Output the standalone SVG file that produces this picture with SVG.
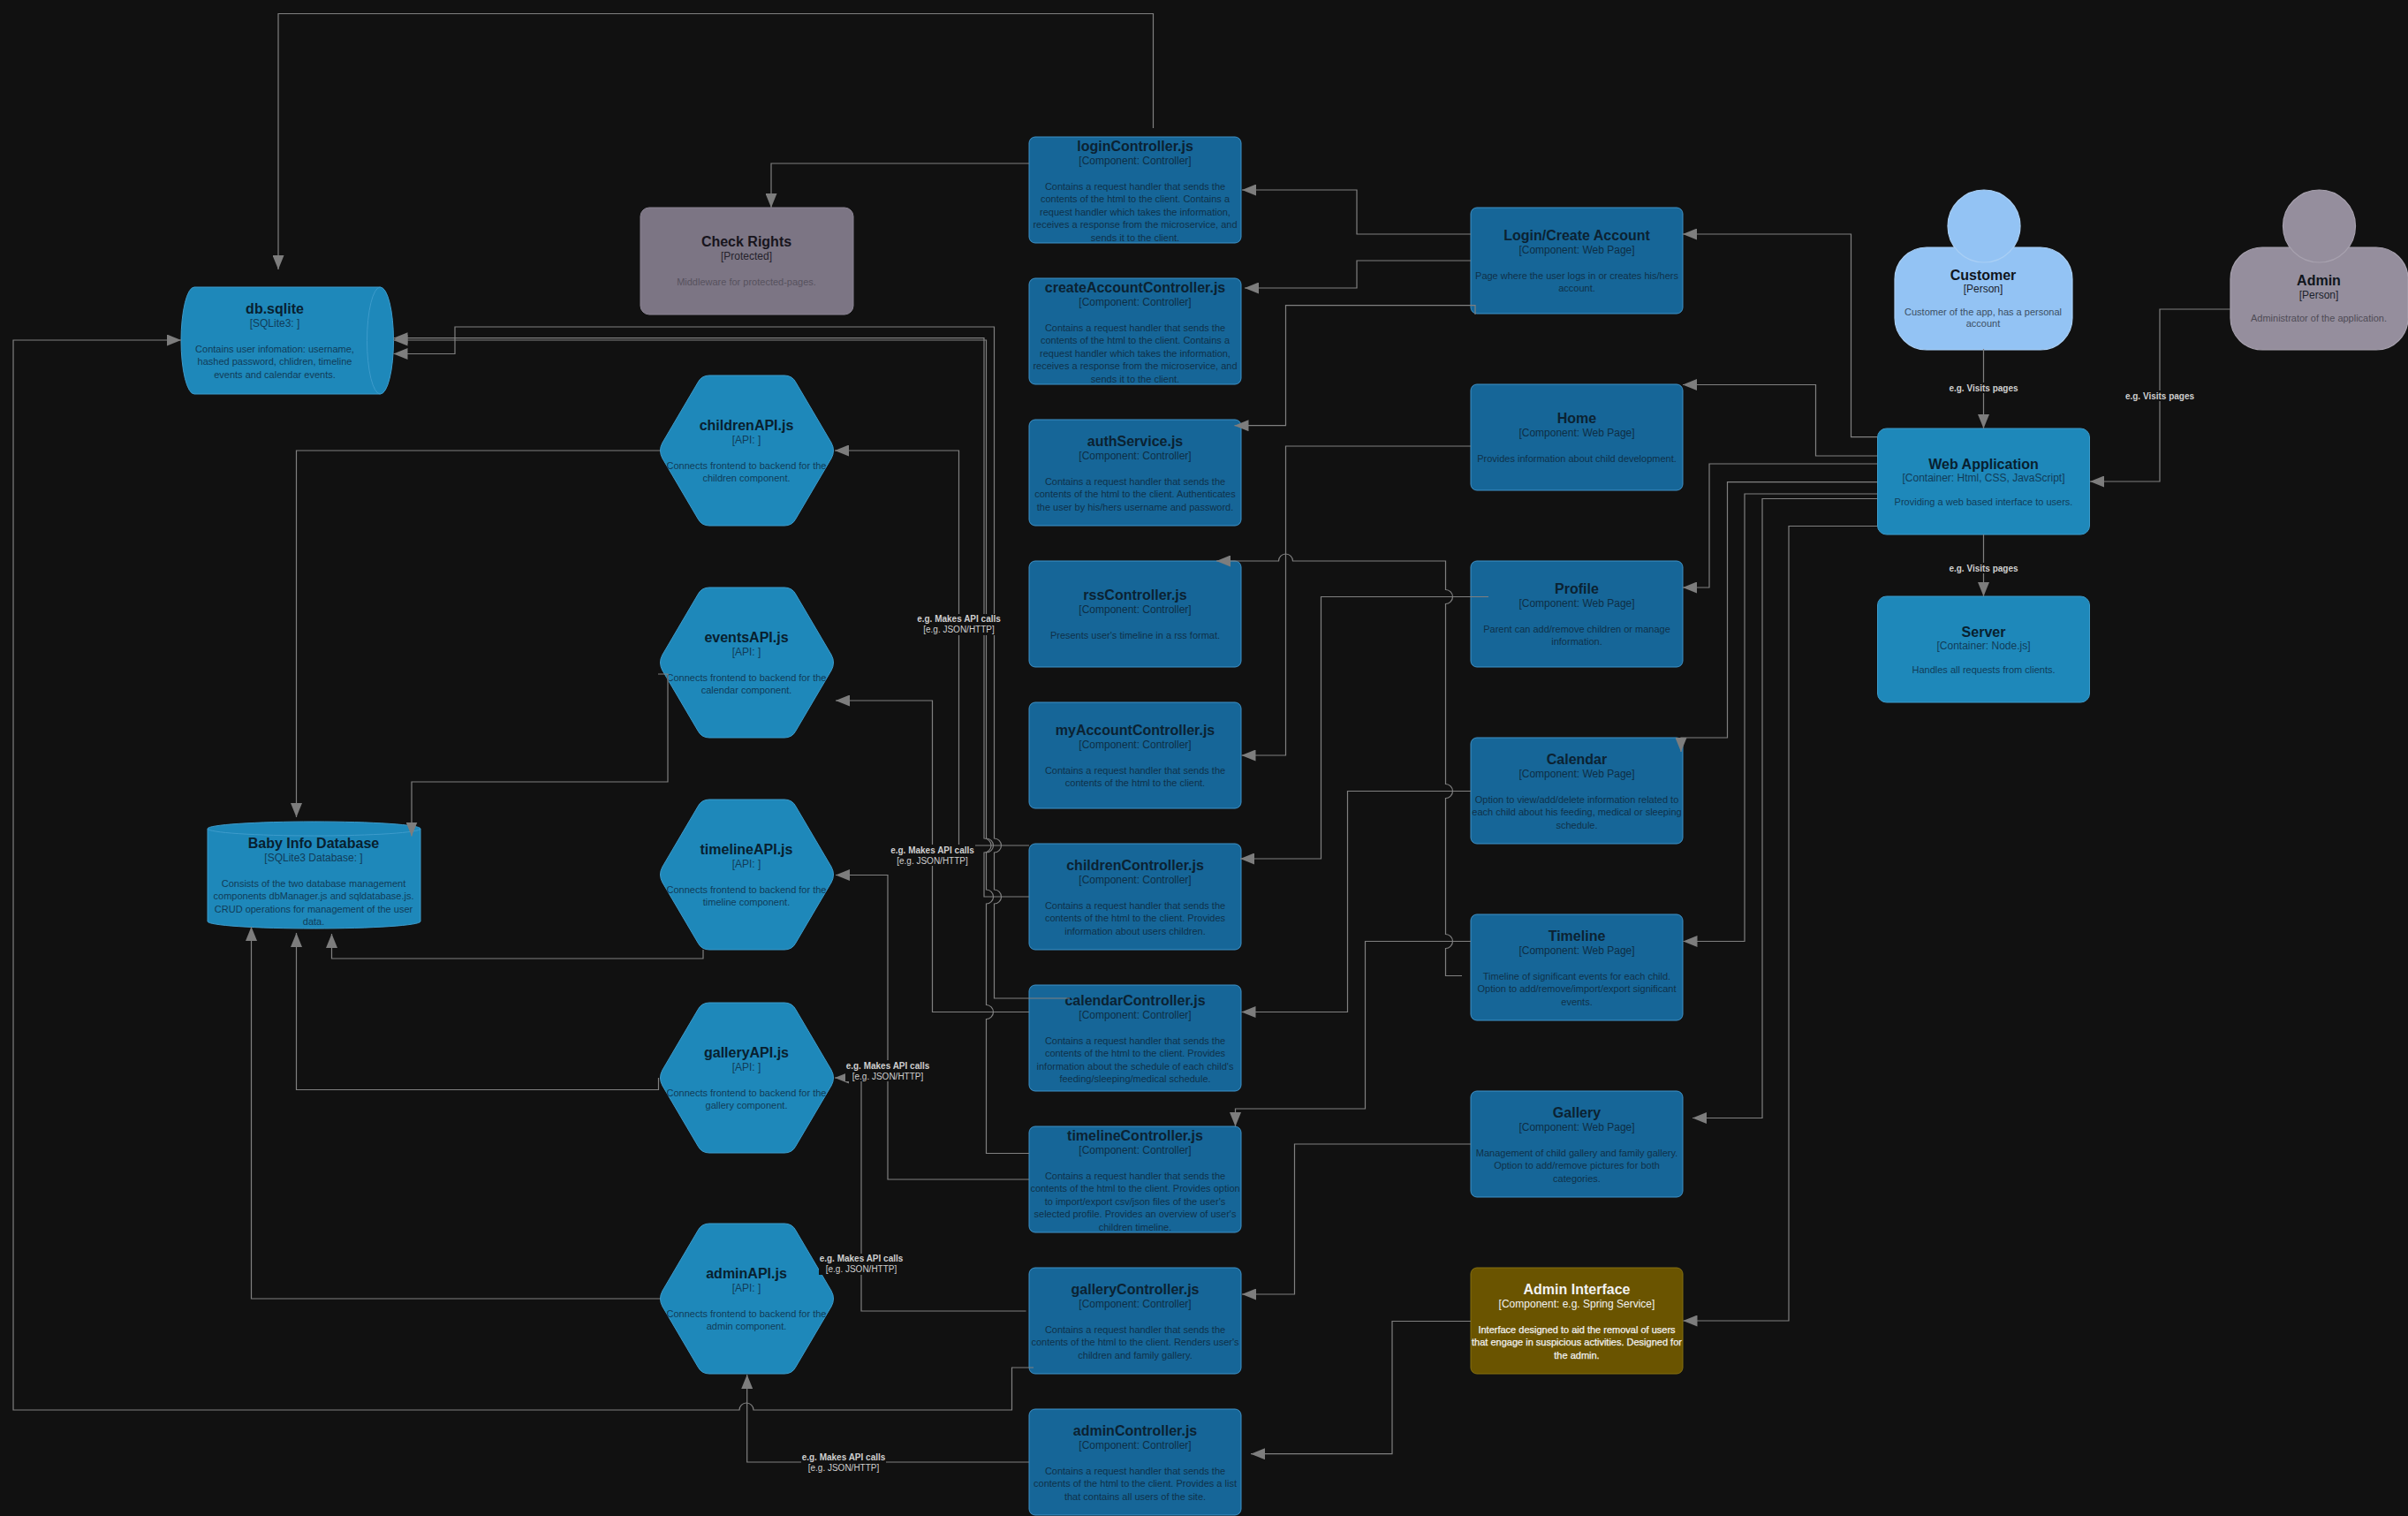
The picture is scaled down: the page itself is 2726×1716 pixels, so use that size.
<svg xmlns="http://www.w3.org/2000/svg" width="2726" height="1716" viewBox="0 0 2726 1716">
<style>
text{font-family:"Liberation Sans",Arial,sans-serif;text-anchor:middle}
.t{font-size:16px;font-weight:bold;fill:#0b2232}
.s{font-size:12px;fill:#0e2e45}
.d{font-size:11px;fill:#0f3149}
.c rect{fill:#166698;stroke:#3f92c8;stroke-width:1}
.k rect,.k path{fill:#1e88ba;stroke:#3d9bcb;stroke-width:1}
.k .t{fill:#08202f}
.k .s,.k .d{fill:#113c58}
.g rect{fill:#7c7584;stroke:#8b8493}
.g .t{fill:#17141c}
.g .s{fill:#25222b}
.g .d{fill:#57525e}
.y rect{fill:#6a5400;stroke:#85700f}
.y .t,.y .s,.y .d{fill:#f2f2f2}
.y .d{stroke:#f2f2f2;stroke-width:.25}
.p rect,.p ellipse{stroke-width:1.2}
.p .t{fill:#10151c}
.p .s{fill:#1b222c}
.cu rect,.cu ellipse{fill:#93c3f4;stroke:#a9cff5}
.cu .d{fill:#3c4f63}
.ad rect,.ad ellipse{fill:#958e9d;stroke:#a7a1ae}
.ad .d{fill:#4f4c56}
#connectors path{fill:none;stroke:#808080;stroke-width:1.2}
#connectors path.a{marker-end:url(#ah)}
.lb rect{fill:#111111}
.lb text{font-size:10px;fill:#cfcfcf}
.lb .b{font-weight:bold}
</style>
<defs>
<marker id="ah" markerUnits="userSpaceOnUse" markerWidth="16" markerHeight="13" refX="16" refY="6.500" orient="auto"><path d="M0,0 L16,6.500 L0,13 Z" fill="#7d7d7d"/></marker>
<path id="hexshape" d="M3,76 L43,8 Q47,0 56,0 L141,0 Q150,0 154,8 L194,76 Q199,85 194,94 L154,162 Q150,170 141,170 L56,170 Q47,170 43,162 L3,94 Q-2,85 3,76Z"/>
</defs>
<rect width="2726" height="1716" fill="#111111"/>

<g id="person-customer" class="p cu" transform="translate(2145,215)">
<rect x="0" y="65" width="201" height="116" rx="36" ry="36"/><ellipse cx="101" cy="41" rx="41" ry="41"/>
<text class="t" x="100" y="101.500">Customer</text><text class="s" x="100" y="116">[Person]</text>
<text class="d" x="100" y="142">Customer of the app, has a personal<tspan x="100" dy="13">account</tspan></text></g>
<g id="person-admin" class="p ad" transform="translate(2525,215)">
<rect x="0" y="65" width="201" height="116" rx="36" ry="36"/><ellipse cx="100.500" cy="41" rx="41" ry="41"/>
<text class="t" x="100" y="107.500">Admin</text><text class="s" x="100" y="123">[Person]</text>
<text class="d" x="100" y="149">Administrator of the application.</text></g>
<g id="web-application" class="k" transform="translate(2125.500,485)"><rect width="240" height="120" rx="10"/>
<text class="t" x="120" y="45.500">Web Application</text><text class="s" x="120" y="60">[Container: Html, CSS, JavaScript]</text>
<text class="d" x="120" y="87">Providing a web based interface to users.</text></g>
<g id="server" class="k" transform="translate(2125.500,675)"><rect width="240" height="120" rx="10"/>
<text class="t" x="120" y="45.500">Server</text><text class="s" x="120" y="60">[Container: Node.js]</text>
<text class="d" x="120" y="87">Handles all requests from clients.</text></g>

<g id="page-login" class="c" transform="translate(1665,235)"><rect width="240" height="120" rx="7"/>
<text class="t" x="120" y="36.500">Login/Create Account</text><text class="s" x="120" y="52">[Component: Web Page]</text>
<text class="d" x="120" y="81">Page where the user logs in or creates his/hers<tspan x="120" dy="14.400">account.</tspan></text></g>
<g id="page-home" class="c" transform="translate(1665,435)"><rect width="240" height="120" rx="7"/>
<text class="t" x="120" y="43.500">Home</text><text class="s" x="120" y="59">[Component: Web Page]</text>
<text class="d" x="120" y="88">Provides information about child development.</text></g>
<g id="page-profile" class="c" transform="translate(1665,635)"><rect width="240" height="120" rx="7"/>
<text class="t" x="120" y="36.500">Profile</text><text class="s" x="120" y="52">[Component: Web Page]</text>
<text class="d" x="120" y="81">Parent can add/remove children or manage<tspan x="120" dy="14.400">information.</tspan></text></g>
<g id="page-calendar" class="c" transform="translate(1665,835)"><rect width="240" height="120" rx="7"/>
<text class="t" x="120" y="29.500">Calendar</text><text class="s" x="120" y="45">[Component: Web Page]</text>
<text class="d" x="120" y="74">Option to view/add/delete information related to<tspan x="120" dy="14.400">each child about his feeding, medical or sleeping</tspan><tspan x="120" dy="14.400">schedule.</tspan></text></g>
<g id="page-timeline" class="c" transform="translate(1665,1035)"><rect width="240" height="120" rx="7"/>
<text class="t" x="120" y="29.500">Timeline</text><text class="s" x="120" y="45">[Component: Web Page]</text>
<text class="d" x="120" y="74">Timeline of significant events for each child.<tspan x="120" dy="14.400">Option to add/remove/import/export significant</tspan><tspan x="120" dy="14.400">events.</tspan></text></g>
<g id="page-gallery" class="c" transform="translate(1665,1235)"><rect width="240" height="120" rx="7"/>
<text class="t" x="120" y="29.500">Gallery</text><text class="s" x="120" y="45">[Component: Web Page]</text>
<text class="d" x="120" y="74">Management of child gallery and family gallery.<tspan x="120" dy="14.400">Option to add/remove pictures for both</tspan><tspan x="120" dy="14.400">categories.</tspan></text></g>
<g id="admin-interface" class="y" transform="translate(1665,1435)"><rect width="240" height="120" rx="7"/>
<text class="t" x="120" y="29.500">Admin Interface</text><text class="s" x="120" y="45">[Component: e.g. Spring Service]</text>
<text class="d" x="120" y="74">Interface designed to aid the removal of users<tspan x="120" dy="14.400">that engage in suspicious activities. Designed for</tspan><tspan x="120" dy="14.400">the admin.</tspan></text></g>

<g id="ctrl-login" class="c" transform="translate(1165,155)"><rect width="240" height="120" rx="7"/>
<text class="t" x="120" y="15.500">loginController.js</text><text class="s" x="120" y="31">[Component: Controller]</text>
<text class="d" x="120" y="60">Contains a request handler that sends the<tspan x="120" dy="14.400">contents of the html to the client. Contains a</tspan><tspan x="120" dy="14.400">request handler which takes the information,</tspan><tspan x="120" dy="14.400">receives a response from the microservice, and</tspan><tspan x="120" dy="14.400">sends it to the client.</tspan></text></g>
<g id="ctrl-create" class="c" transform="translate(1165,315)"><rect width="240" height="120" rx="7"/>
<text class="t" x="120" y="15.500">createAccountController.js</text><text class="s" x="120" y="31">[Component: Controller]</text>
<text class="d" x="120" y="60">Contains a request handler that sends the<tspan x="120" dy="14.400">contents of the html to the client. Contains a</tspan><tspan x="120" dy="14.400">request handler which takes the information,</tspan><tspan x="120" dy="14.400">receives a response from the microservice, and</tspan><tspan x="120" dy="14.400">sends it to the client.</tspan></text></g>
<g id="ctrl-auth" class="c" transform="translate(1165,475)"><rect width="240" height="120" rx="7"/>
<text class="t" x="120" y="29.500">authService.js</text><text class="s" x="120" y="45">[Component: Controller]</text>
<text class="d" x="120" y="74">Contains a request handler that sends the<tspan x="120" dy="14.400">contents of the html to the client. Authenticates</tspan><tspan x="120" dy="14.400">the user by his/hers username and password.</tspan></text></g>
<g id="ctrl-rss" class="c" transform="translate(1165,635)"><rect width="240" height="120" rx="7"/>
<text class="t" x="120" y="43.500">rssController.js</text><text class="s" x="120" y="59">[Component: Controller]</text>
<text class="d" x="120" y="88">Presents user's timeline in a rss format.</text></g>
<g id="ctrl-account" class="c" transform="translate(1165,795)"><rect width="240" height="120" rx="7"/>
<text class="t" x="120" y="36.500">myAccountController.js</text><text class="s" x="120" y="52">[Component: Controller]</text>
<text class="d" x="120" y="81">Contains a request handler that sends the<tspan x="120" dy="14.400">contents of the html to the client.</tspan></text></g>
<g id="ctrl-children" class="c" transform="translate(1165,955)"><rect width="240" height="120" rx="7"/>
<text class="t" x="120" y="29.500">childrenController.js</text><text class="s" x="120" y="45">[Component: Controller]</text>
<text class="d" x="120" y="74">Contains a request handler that sends the<tspan x="120" dy="14.400">contents of the html to the client. Provides</tspan><tspan x="120" dy="14.400">information about users children.</tspan></text></g>
<g id="ctrl-calendar" class="c" transform="translate(1165,1115)"><rect width="240" height="120" rx="7"/>
<text class="t" x="120" y="22.500">calendarController.js</text><text class="s" x="120" y="38">[Component: Controller]</text>
<text class="d" x="120" y="67">Contains a request handler that sends the<tspan x="120" dy="14.400">contents of the html to the client. Provides</tspan><tspan x="120" dy="14.400">information about the schedule of each child's</tspan><tspan x="120" dy="14.400">feeding/sleeping/medical schedule.</tspan></text></g>
<g id="ctrl-timeline" class="c" transform="translate(1165,1275)"><rect width="240" height="120" rx="7"/>
<text class="t" x="120" y="15.500">timelineController.js</text><text class="s" x="120" y="31">[Component: Controller]</text>
<text class="d" x="120" y="60">Contains a request handler that sends the<tspan x="120" dy="14.400">contents of the html to the client. Provides option</tspan><tspan x="120" dy="14.400">to import/export csv/json files of the user's</tspan><tspan x="120" dy="14.400">selected profile. Provides an overview of user's</tspan><tspan x="120" dy="14.400">children timeline.</tspan></text></g>
<g id="ctrl-gallery" class="c" transform="translate(1165,1435)"><rect width="240" height="120" rx="7"/>
<text class="t" x="120" y="29.500">galleryController.js</text><text class="s" x="120" y="45">[Component: Controller]</text>
<text class="d" x="120" y="74">Contains a request handler that sends the<tspan x="120" dy="14.400">contents of the html to the client. Renders user's</tspan><tspan x="120" dy="14.400">children and family gallery.</tspan></text></g>
<g id="ctrl-admin" class="c" transform="translate(1165,1595)"><rect width="240" height="120" rx="7"/>
<text class="t" x="120" y="29.500">adminController.js</text><text class="s" x="120" y="45">[Component: Controller]</text>
<text class="d" x="120" y="74">Contains a request handler that sends the<tspan x="120" dy="14.400">contents of the html to the client. Provides a list</tspan><tspan x="120" dy="14.400">that contains all users of the site.</tspan></text></g>

<g id="check-rights" class="g" transform="translate(725,235)"><rect width="241" height="121" rx="10"/>
<text class="t" x="120" y="43.500">Check Rights</text><text class="s" x="120" y="59">[Protected]</text>
<text class="d" x="120" y="88">Middleware for protected-pages.</text></g>

<g id="api-children" class="k" transform="translate(747,425)"><use href="#hexshape" fill="#1e88ba" stroke="#3d9bcb"/>
<text class="t" x="98" y="62">childrenAPI.js</text><text class="s" x="98" y="77">[API: ]</text>
<text class="d" x="98" y="106">Connects frontend to backend for the<tspan x="98" dy="14.400">children component.</tspan></text></g>
<g id="api-events" class="k" transform="translate(747,665)"><use href="#hexshape" fill="#1e88ba" stroke="#3d9bcb"/>
<text class="t" x="98" y="62">eventsAPI.js</text><text class="s" x="98" y="77">[API: ]</text>
<text class="d" x="98" y="106">Connects frontend to backend for the<tspan x="98" dy="14.400">calendar component.</tspan></text></g>
<g id="api-timeline" class="k" transform="translate(747,905)"><use href="#hexshape" fill="#1e88ba" stroke="#3d9bcb"/>
<text class="t" x="98" y="62">timelineAPI.js</text><text class="s" x="98" y="77">[API: ]</text>
<text class="d" x="98" y="106">Connects frontend to backend for the<tspan x="98" dy="14.400">timeline component.</tspan></text></g>
<g id="api-gallery" class="k" transform="translate(747,1135)"><use href="#hexshape" fill="#1e88ba" stroke="#3d9bcb"/>
<text class="t" x="98" y="62">galleryAPI.js</text><text class="s" x="98" y="77">[API: ]</text>
<text class="d" x="98" y="106">Connects frontend to backend for the<tspan x="98" dy="14.400">gallery component.</tspan></text></g>
<g id="api-admin" class="k" transform="translate(747,1385)"><use href="#hexshape" fill="#1e88ba" stroke="#3d9bcb"/>
<text class="t" x="98" y="62">adminAPI.js</text><text class="s" x="98" y="77">[API: ]</text>
<text class="d" x="98" y="106">Connects frontend to backend for the<tspan x="98" dy="14.400">admin component.</tspan></text></g>

<g id="db-sqlite" class="k">
<path d="M220,325 L430.500,325 A15,60.500 0 0 1 430.500,446 L220,446 A15,60.500 0 0 1 220,325Z"/>
<path d="M430.500,325 A15,60.500 0 0 0 430.500,446" style="fill:none"/>
<text class="t" x="311" y="354.500">db.sqlite</text><text class="s" x="311" y="370">[SQLite3: ]</text>
<text class="d" x="311" y="399">Contains user infomation: username,<tspan x="311" dy="14.400">hashed password, chlidren, timeline</tspan><tspan x="311" dy="14.400">events and calendar events.</tspan></text></g>
<g id="baby-db" class="k">
<path d="M235,938 A120.500,8 0 0 1 476,938 L476,1043 A120.500,8 0 0 1 235,1043Z"/>
<path d="M235,938 A120.500,8 0 0 0 476,938" style="fill:none"/>
<text class="t" x="355" y="960">Baby Info Database</text><text class="s" x="355" y="975">[SQLite3 Database: ]</text>
<text class="d" x="355" y="1004">Consists of the two database management<tspan x="355" dy="14.400">components dbManager.js and sqldatabase.js.</tspan><tspan x="355" dy="14.400">CRUD operations for management of the user</tspan><tspan x="355" dy="14.400">data.</tspan></text></g>

<g id="connectors">
<path class="a" d="M2245.500,395 V485"/>
<path class="a" d="M2525,350 H2445 V545 H2366"/>
<path class="a" d="M2245.500,605 V675"/>
<path class="a" d="M2125,494.700 H2095.500 V265 H1905"/>
<path class="a" d="M2125,516 H2055.500 V435.500 H1905"/>
<path class="a" d="M2125,525 H1935 V665 H1905"/>
<path class="a" d="M2125,545.700 H1955.500 V835 H1903 V851"/>
<path class="a" d="M2125,559 H1975 V1065.500 H1905.500"/>
<path class="a" d="M2125,564.500 H1995 V1265.500 H1916"/>
<path class="a" d="M2125,595.500 H2025 V1495 H1905.500"/>
<path class="a" d="M1665,265 H1536 V215 H1406"/>
<path class="a" d="M1665,295 H1536 V326 H1409"/>
<path class="a" d="M1670,356 V345.700 H1455.500 V481.700 H1397.500"/>
<path class="a" d="M1665,505 H1455.500 V855 H1405.500"/>
<path class="a" d="M1655,1104.500 H1636.500 V1073.500 A8,8 0 0 0 1636.500,1057.500 V903.500 A8,8 0 0 0 1636.500,887.500 V683.500 A8,8 0 0 0 1636.500,667.500 V635 H1463.500 A8,8 0 0 0 1447.500,635 H1377"/>
<path class="a" d="M1685,675.500 H1495.500 V972 H1404"/>
<path class="a" d="M1665,895.500 H1525.500 V1145.500 H1405.500"/>
<path class="a" d="M1665,1065.500 H1545.500 V1255 H1398.500 V1275"/>
<path class="a" d="M1665,1295 H1465.500 V1465 H1406"/>
<path class="a" d="M1665,1495.500 H1576 V1645.700 H1416"/>
<path class="a" d="M1305.500,145 V15.500 H315 V305"/>
<path class="a" d="M1165,185 H873 V235"/>
<path class="a" d="M1165,957 H1085.500 V510 H945"/>
<path class="a" d="M1211,1130 H1125.500 V1023 A8,8 0 0 0 1125.500,1007 V965 A8,8 0 0 0 1125.500,949 V370 H515 V400.500 H445.500"/>
<path class="a" d="M1165,1015 H1114 V965 A8,8 0 0 0 1114,949 V382.700 H445.500"/>
<path class="a" d="M1165,1305.500 H1116.500 V1153.500 A8,8 0 0 0 1116.500,1137.500 V1023 A8,8 0 0 0 1116.500,1007 V965 A8,8 0 0 0 1116.500,949 V385 H445.500"/>
<path class="a" d="M1165,1145.500 H1055.500 V793 H946"/>
<path class="a" d="M1165,1335 H1005 V990.500 H946"/>
<path class="a" d="M1161.500,1484 H975 V1220 H945"/>
<path class="a" d="M1165,1655 H845.700 V1556"/>
<path class="a" d="M1170,1548 H1145.500 V1596 H853 A8,8 0 0 0 837,1596 H15 V385 H205"/>
<path class="a" d="M747,510 H335.500 V925"/>
<path class="a" d="M745,763 H756 V885 H466 V946.500"/>
<path class="a" d="M796,1075 V1085 H375.500 V1057"/>
<path class="a" d="M745.500,1220 V1233.500 H335.500 V1056"/>
<path class="a" d="M747,1470 H284.500 V1049"/>
</g>

<g id="labels">
<g class="lb"><rect x="2206" y="433" width="79" height="12"/><text class="b" x="2245.500" y="442.500">e.g. Visits pages</text></g>
<g class="lb"><rect x="2406" y="442" width="79" height="12"/><text class="b" x="2445" y="451.500">e.g. Visits pages</text></g>
<g class="lb"><rect x="2206" y="637" width="79" height="12"/><text class="b" x="2245.500" y="646.500">e.g. Visits pages</text></g>
<g class="lb"><rect x="1038" y="695" width="96" height="24"/><text class="b" x="1085.500" y="704">e.g. Makes API calls</text><text x="1085.500" y="716">[e.g. JSON/HTTP]</text></g>
<g class="lb"><rect x="1008" y="956" width="96" height="24"/><text class="b" x="1055.500" y="966">e.g. Makes API calls</text><text x="1055.500" y="978">[e.g. JSON/HTTP]</text></g>
<g class="lb"><rect x="957" y="1200" width="96" height="24"/><text class="b" x="1005" y="1210">e.g. Makes API calls</text><text x="1005" y="1222">[e.g. JSON/HTTP]</text></g>
<g class="lb"><rect x="927" y="1419" width="96" height="24"/><text class="b" x="975" y="1428">e.g. Makes API calls</text><text x="975" y="1440">[e.g. JSON/HTTP]</text></g>
<g class="lb"><rect x="907" y="1644" width="96" height="24"/><text class="b" x="955" y="1653">e.g. Makes API calls</text><text x="955" y="1665">[e.g. JSON/HTTP]</text></g>
</g>
</svg>
